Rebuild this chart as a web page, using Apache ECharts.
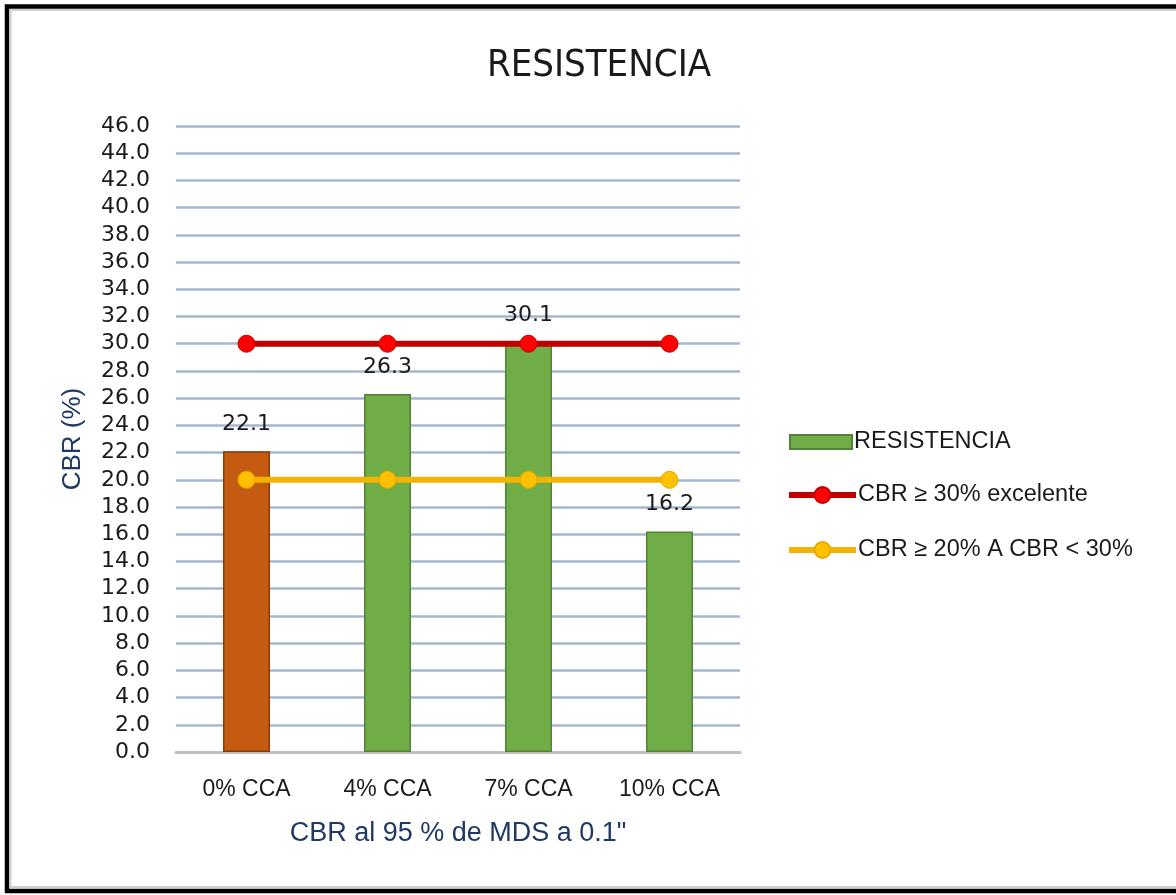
<!DOCTYPE html>
<html>
<head>
<meta charset="utf-8">
<script src="https://cdn.jsdelivr.net/npm/echarts@6/dist/echarts.min.js"></script>
<style>
  html, body { margin: 0; padding: 0; background: #fff; }
  #chart { width: 1176px; height: 895px; }
</style>
</head>
<body>
<div id="chart"></div>
<script>
// CBR results by CCA content, with the 20% and 30% reference levels
const categories = ['0% CCA', '4% CCA', '7% CCA', '10% CCA'];
const resistencia = [22.1, 26.3, 30.1, 16.2];
const excelente = [30, 30, 30, 30];
const rangoMedio = [20, 20, 20, 20];
const seriesNames = ['RESISTENCIA', 'CBR \u2265 30% excelente', 'CBR \u2265 20% A CBR < 30%'];
const yMin = 0, yMax = 46, yStep = 2;

const FONT = '"Liberation Sans", Arial, sans-serif';
const NARROW = '"Liberation Sans Narrow", "DejaVu Sans Condensed", Arial, sans-serif';
const NAVY = '#1F3864';
const TEXT = '#1a1a1a';
const legendText = { fontFamily: FONT, fontSize: 23.5, color: TEXT, lineHeight: 24, padding: [0, 0, 0, -3] };

const chart = echarts.init(document.getElementById('chart'));

const barData = resistencia.map((v, i) => i === 0
  ? { value: v, itemStyle: { color: '#C55A11', borderColor: '#843C0C' } }
  : v);

chart.setOption({
  backgroundColor: '#ffffff',
  animation: false,
  title: {
    text: 'RESISTENCIA',
    left: 594,
    top: 42,
    textAlign: 'center',
    textStyle: { fontFamily: NARROW, fontSize: 38, fontWeight: 'normal', color: TEXT }
  },
  grid: { left: 176, right: 436, top: 126, bottom: 143, containLabel: false },
  legend: [
    {
      orient: 'vertical',
      left: 784,
      top: 425,
      itemWidth: 62,
      itemHeight: 14,
      data: [{ name: seriesNames[0], icon: 'rect' }],
      textStyle: legendText
    },
    {
      orient: 'vertical',
      left: 781,
      top: 478,
      itemWidth: 67,
      itemHeight: 20,
      itemGap: 31,
      data: [
        { name: seriesNames[1], lineStyle: { width: 6 } },
        { name: seriesNames[2], lineStyle: { width: 6 } }
      ],
      textStyle: legendText
    }
  ],
  xAxis: {
    type: 'category',
    data: categories,
    name: 'CBR al 95 % de MDS a 0.1"',
    nameLocation: 'middle',
    nameGap: 68,
    nameTextStyle: { fontFamily: FONT, fontSize: 27, color: NAVY },
    axisLine: { lineStyle: { color: '#BFBFBF', width: 3 } },
    axisTick: { show: false },
    axisLabel: { fontFamily: FONT, fontSize: 23, color: TEXT, margin: 26 }
  },
  yAxis: {
    type: 'value',
    min: yMin,
    max: yMax,
    interval: yStep,
    name: 'CBR (%)',
    nameLocation: 'middle',
    nameGap: 90,
    nameTextStyle: { fontFamily: FONT, fontSize: 26, color: NAVY },
    axisLine: { show: false },
    axisTick: { show: false },
    axisLabel: {
      fontFamily: '"DejaVu Sans", sans-serif',
      fontSize: 22,
      color: TEXT,
      margin: 26,
      formatter: v => v.toFixed(1)
    },
    splitLine: { lineStyle: { color: '#A3B8CF', width: 2.5 } }
  },
  series: [
    {
      name: seriesNames[0],
      type: 'bar',
      data: barData,
      barWidth: 47,
      itemStyle: { color: '#70AD47', borderColor: '#548235', borderWidth: 1.5 },
      label: {
        show: true,
        position: 'top',
        distance: 16,
        fontFamily: '"DejaVu Sans", sans-serif',
        fontSize: 22,
        color: TEXT,
        formatter: p => p.value.toFixed(1)
      },
      z: 2
    },
    {
      name: seriesNames[1],
      type: 'line',
      data: excelente,
      symbol: 'circle',
      symbolSize: 17,
      lineStyle: { color: '#C00000', width: 6 },
      itemStyle: { color: '#FF0000', borderColor: '#C00000', borderWidth: 1 },
      z: 3
    },
    {
      name: seriesNames[2],
      type: 'line',
      data: rangoMedio,
      symbol: 'circle',
      symbolSize: 17,
      lineStyle: { color: '#F2B400', width: 6 },
      itemStyle: { color: '#FFC000', borderColor: '#E8A800', borderWidth: 1 },
      z: 3
    }
  ],
  graphic: [
    {
      type: 'rect',
      silent: true,
      shape: { x: 7, y: 6.5, width: 1200, height: 884.5 },
      style: { fill: 'none', stroke: '#000000', lineWidth: 4.5 },
      z: 100
    },
    {
      type: 'rect',
      silent: true,
      shape: { x: 10.5, y: 10, width: 1200, height: 877 },
      style: { fill: 'none', stroke: '#CFCFCF', lineWidth: 2 },
      z: 100
    }
  ]
});
</script>
</body>
</html>
